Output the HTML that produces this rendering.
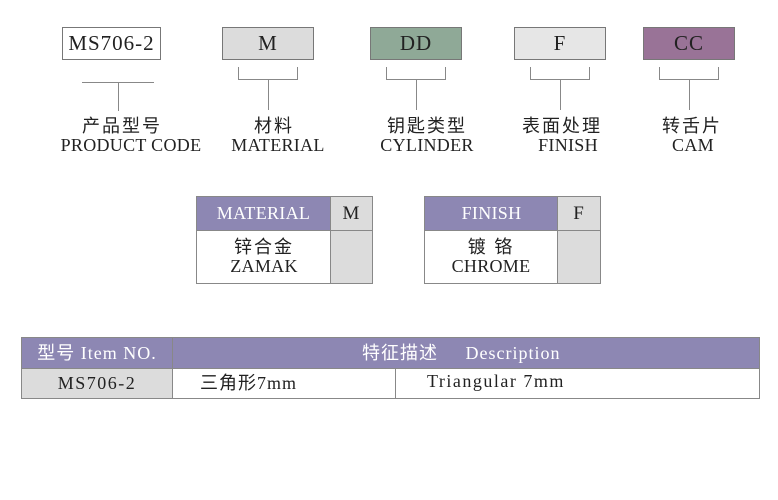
<!DOCTYPE html>
<html><head><meta charset="utf-8"><style>
body{margin:0;width:778px;height:500px;background:#fff;position:relative;overflow:hidden;font-family:"Liberation Serif","Noto Serif CJK SC",serif;color:#222}
.a{position:absolute;box-sizing:border-box;white-space:nowrap}
.box{border:1px solid #777;font-size:21px;text-align:center;line-height:31px;height:33px;letter-spacing:1px}
.l{background:#888}
.cn{font-family:"Liberation Serif","Noto Sans CJK SC",sans-serif;font-size:18px;letter-spacing:2px;text-align:center;width:160px}
.en{font-size:18px;text-align:center;width:160px;letter-spacing:0.3px}
.pur{background:#8d87b3;color:#fff}
</style></head><body>
<div class="a box" style="left:62px;top:27px;width:99px;background:#fff">MS706-2</div>
<div class="a box" style="left:222px;top:27px;width:92px;background:#dcdcdc">M</div>
<div class="a box" style="left:370px;top:27px;width:92px;background:#8fa997">DD</div>
<div class="a box" style="left:514px;top:27px;width:92px;background:#e6e6e6">F</div>
<div class="a box" style="left:643px;top:27px;width:92px;background:#997397">CC</div>

<div class="a l" style="left:82px;top:82px;width:72px;height:1px"></div>
<div class="a l" style="left:118px;top:82px;width:1px;height:29px"></div>

<div class="a" style="left:238px;top:67px;width:60px;height:13px;border:1px solid #888;border-top:none"></div>
<div class="a l" style="left:268px;top:80px;width:1px;height:30px"></div>
<div class="a" style="left:386px;top:67px;width:60px;height:13px;border:1px solid #888;border-top:none"></div>
<div class="a l" style="left:416px;top:80px;width:1px;height:30px"></div>
<div class="a" style="left:530px;top:67px;width:60px;height:13px;border:1px solid #888;border-top:none"></div>
<div class="a l" style="left:560px;top:80px;width:1px;height:30px"></div>
<div class="a" style="left:659px;top:67px;width:60px;height:13px;border:1px solid #888;border-top:none"></div>
<div class="a l" style="left:689px;top:80px;width:1px;height:30px"></div>

<div class="a cn" style="left:42px;top:112px">产品型号</div>
<div class="a en" style="left:51px;top:135px">PRODUCT CODE</div>
<div class="a cn" style="left:194px;top:112px">材料</div>
<div class="a en" style="left:198px;top:135px">MATERIAL</div>
<div class="a cn" style="left:347px;top:112px">钥匙类型</div>
<div class="a en" style="left:347px;top:135px">CYLINDER</div>
<div class="a cn" style="left:482px;top:112px">表面处理</div>
<div class="a en" style="left:488px;top:135px">FINISH</div>
<div class="a cn" style="left:612px;top:112px">转舌片</div>
<div class="a en" style="left:613px;top:135px">CAM</div>

<!-- material table -->
<div class="a" style="left:196px;top:196px;width:177px;height:88px;border:1px solid #888"></div>
<div class="a pur" style="left:197px;top:197px;width:133px;height:33px;font-size:18px;line-height:33px;text-align:center;letter-spacing:0.3px">MATERIAL</div>
<div class="a" style="left:330px;top:197px;width:42px;height:86px;background:#dcdcdc;border-left:1px solid #888"></div>
<div class="a" style="left:330px;top:197px;width:42px;line-height:33px;text-align:center;font-size:19px">M</div>
<div class="a l" style="left:197px;top:230px;width:175px;height:1px"></div>
<div class="a cn" style="left:184px;top:233px">锌合金</div>
<div class="a en" style="left:184px;top:256px">ZAMAK</div>

<!-- finish table -->
<div class="a" style="left:424px;top:196px;width:177px;height:88px;border:1px solid #888"></div>
<div class="a pur" style="left:425px;top:197px;width:133px;height:33px;font-size:18px;line-height:33px;text-align:center;letter-spacing:0.3px">FINISH</div>
<div class="a" style="left:557px;top:197px;width:43px;height:86px;background:#dcdcdc;border-left:1px solid #888"></div>
<div class="a" style="left:557px;top:197px;width:43px;line-height:33px;text-align:center;font-size:19px">F</div>
<div class="a l" style="left:425px;top:230px;width:175px;height:1px"></div>
<div class="a cn" style="left:411px;top:233px">镀 铬</div>
<div class="a en" style="left:411px;top:256px">CHROME</div>

<!-- bottom table -->
<div class="a" style="left:21px;top:337px;width:739px;height:62px;border:1px solid #888"></div>
<div class="a pur" style="left:22px;top:338px;width:737px;height:30px"></div>
<div class="a" style="left:22px;top:368px;width:150px;height:30px;background:#dcdcdc"></div>
<div class="a l" style="left:22px;top:368px;width:737px;height:1px"></div>
<div class="a l" style="left:172px;top:338px;width:1px;height:60px"></div>
<div class="a l" style="left:395px;top:369px;width:1px;height:29px"></div>
<div class="a" style="left:22px;top:338px;width:150px;line-height:30px;text-align:center;color:#fff;font-size:18px;letter-spacing:1px;font-family:'Liberation Serif','Noto Sans CJK SC',serif">型号 Item NO.</div>
<div class="a" style="left:362px;top:338px;line-height:30px;color:#fff;font-size:18px;letter-spacing:1px;font-family:'Liberation Serif','Noto Sans CJK SC',serif">特征描述&nbsp;&nbsp;&nbsp;&nbsp;&nbsp;Description</div>
<div class="a" style="left:22px;top:368px;width:150px;line-height:30px;text-align:center;font-size:18px;letter-spacing:1.5px">MS706-2</div>
<div class="a" style="left:200px;top:368px;line-height:30px;font-size:18px;letter-spacing:1px;font-family:'Liberation Serif','Noto Sans CJK SC',serif">三角形7mm</div>
<div class="a" style="left:427px;top:366px;line-height:30px;font-size:18px;letter-spacing:1.5px">Triangular 7mm</div>
</body></html>
